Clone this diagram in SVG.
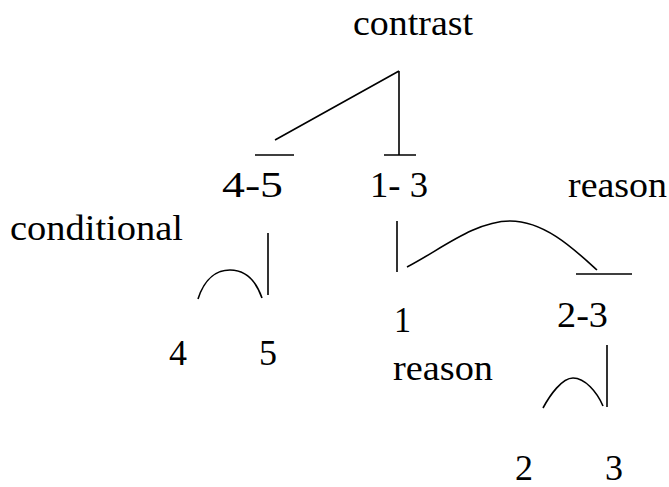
<svg xmlns="http://www.w3.org/2000/svg" width="669" height="487" viewBox="0 0 669 487">
<style>
text{font-family:"Liberation Serif","Times New Roman",serif;font-size:35px;fill:#000}
.l{fill:none;stroke:#000;stroke-width:1.6}
</style>
<rect width="669" height="487" fill="#fff"/>
<g id="contrast"><text x="353" y="35" textLength="120" lengthAdjust="spacingAndGlyphs">contrast</text></g>
<g id="n45"><text x="222" y="197" textLength="61" lengthAdjust="spacingAndGlyphs">4-5</text></g>
<g id="n13"><text x="370" y="197" textLength="58" lengthAdjust="spacingAndGlyphs">1- 3</text></g>
<g id="conditional"><text x="10" y="240" textLength="173" lengthAdjust="spacingAndGlyphs">conditional</text></g>
<g id="reason1"><text x="568" y="197" textLength="99" lengthAdjust="spacingAndGlyphs">reason</text></g>
<g id="n4"><text x="169" y="365" textLength="18" lengthAdjust="spacingAndGlyphs">4</text></g>
<g id="n5"><text x="259" y="365" textLength="18" lengthAdjust="spacingAndGlyphs">5</text></g>
<g id="n1"><text x="394" y="332" textLength="17" lengthAdjust="spacingAndGlyphs">1</text></g>
<g id="reason2"><text x="393" y="380" textLength="100" lengthAdjust="spacingAndGlyphs">reason</text></g>
<g id="n23"><text x="557" y="327" textLength="51" lengthAdjust="spacingAndGlyphs">2-3</text></g>
<g id="n2"><text x="515" y="480" textLength="18" lengthAdjust="spacingAndGlyphs">2</text></g>
<g id="n3"><text x="605" y="480" textLength="18" lengthAdjust="spacingAndGlyphs">3</text></g>
<g id="connectors" class="l">
<path d="M399,71 V155 M384,155 H416 M399,71 L275,140 M255,155 H294"/>
<path d="M268,233 V295 M198,299 C205,277 218,270 230,270 C243,270 255,278 262,298"/>
<path d="M397,221 V272 M407,267 C440,250 475,221 510,221 C545,221 575,250 597,270 M576,274 H632"/>
<path d="M607,345 V407 M543,408 C550,395 562,378 573,378 C585,378 597,392 603,406"/>
</g>
</svg>
